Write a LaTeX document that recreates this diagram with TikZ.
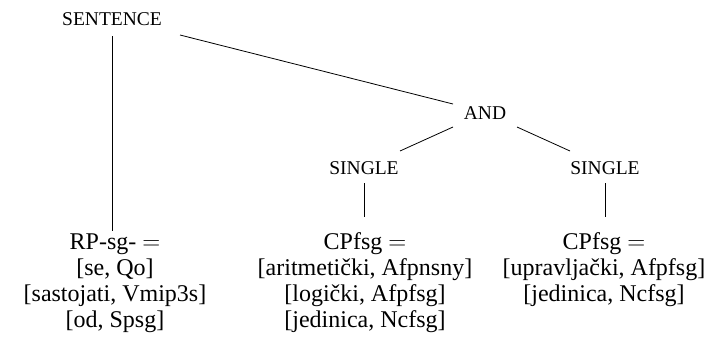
\documentclass[tikz,border=0pt]{standalone}
\usepackage{fontspec}
\setmainfont{Liberation Serif}
\usetikzlibrary{calc}
\begin{document}
\begin{tikzpicture}[x=1pt,y=-1pt,
  inner/.style={font=\fontsize{19.5}{21}\selectfont, inner sep=0pt, anchor=base},
  leaf/.style={font=\fontsize{24}{26}\selectfont, inner sep=0pt, align=center, anchor=base},
  edge/.style={line width=0.8pt}]
\useasboundingbox (0,0) rectangle (713,346);
\node[inner] (sent) at (112,25) {SENTENCE};
\node[inner] (and) at (485,119) {AND};
\node[inner] (s1) at (364,174) {SINGLE};
\node[inner] (s2) at (605,174) {SINGLE};
% base anchor = baseline of the last line
\node[leaf] (l1) at (115,327) {RP-sg- $=$\\ {[se, Qo]}\\ {[sastojati, Vmip3s]}\\ {[od, Spsg]}};
\node[leaf] (l2) at (365,327) {CPfsg $=$\\ {[aritmetički, Afpnsny]}\\ {[logički, Afpfsg]}\\ {[jedinica, Ncfsg]}};
\node[leaf] (l3) at (604,301) {CPfsg $=$\\ {[upravljački, Afpfsg]}\\ {[jedinica, Ncfsg]}};
\draw[edge] ($(sent.base)+(0,11)$) -- ($(sent.base |- l1.base)+(0,-96)$);
\draw[edge] ($(sent.base)+(68,10)$) -- ($(and.base)+(-32,-15)$);
\draw[edge] ($(and.base)+(-32,8)$) -- ($(s1.base)+(36,-23)$);
\draw[edge] ($(and.base)+(32,8)$) -- ($(s2.base)+(-35,-23)$);
\draw[edge] ($(s1.base)+(0,9)$) -- ($(s1.base |- l2.base)+(0,-110)$);
\draw[edge] ($(s2.base)+(0,9)$) -- ($(s2.base |- l3.base)+(0,-84)$);
\end{tikzpicture}
\end{document}
